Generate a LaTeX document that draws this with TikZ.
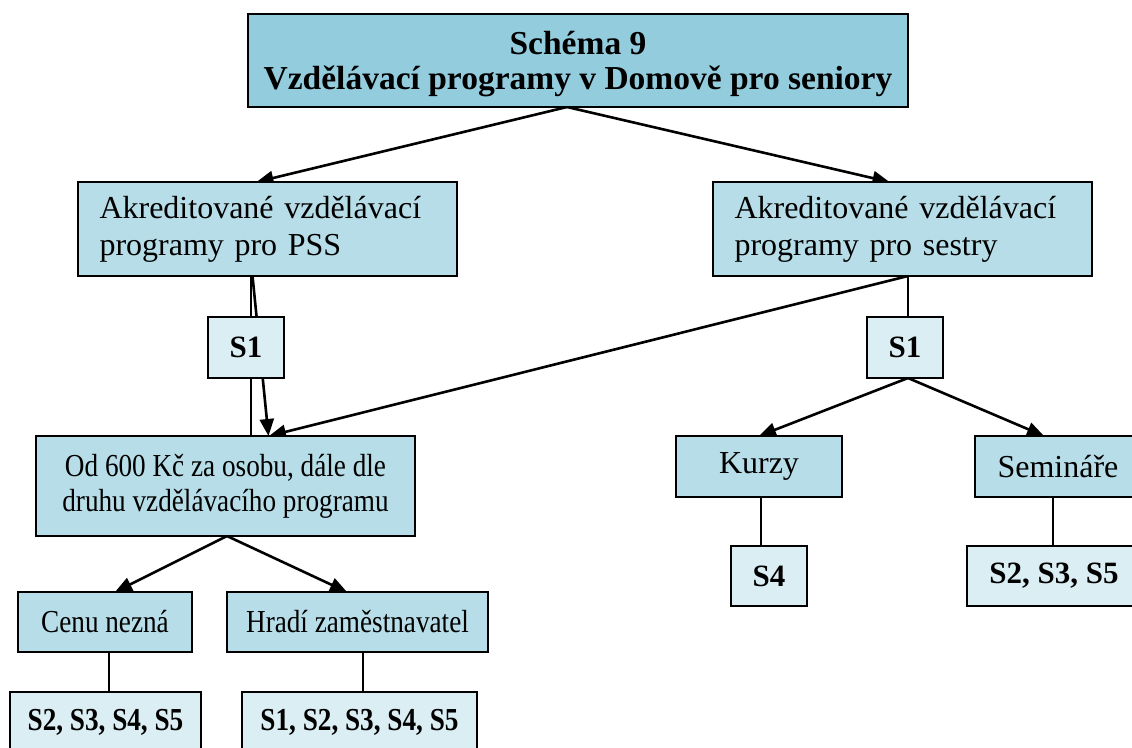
\documentclass[tikz,border=0pt]{standalone}
\usepackage{fontspec}
\setmainfont{Liberation Serif}
\newfontfamily\narrowserif[FakeStretch=0.85]{Liberation Serif}
\usetikzlibrary{arrows.meta,backgrounds}
\definecolor{headfill}{HTML}{93CDDD}
\definecolor{boxfill}{HTML}{B7DEE8}
\definecolor{tagfill}{HTML}{DBEEF4}
\tikzset{
  box/.style={draw=black, line width=1.8pt, fill=boxfill, inner sep=0pt, outer sep=0pt,
    font=\fontsize{32}{37}\selectfont, align=center},
  narrowbox/.style={box, font=\narrowserif\fontsize{32}{35}\selectfont},
  headbox/.style={box, fill=headfill, font=\bfseries\fontsize{33.5}{35}\selectfont},
  leftbox/.style={box, text width=336pt, inner xsep=21.5pt, align=left, minimum height=94pt},
  tagbox/.style={box, fill=tagfill, font=\bfseries\fontsize{31}{36}\selectfont},
  narrowtag/.style={box, fill=tagfill, font=\narrowserif\bfseries\fontsize{32}{35}\selectfont},
  arr/.style={line width=2.6pt, -{Triangle[length=17pt,width=14pt]}},
  link/.style={line width=1.4pt}
}
\begin{document}
\begin{tikzpicture}[x=1pt,y=-1pt]
\useasboundingbox (0,0) rectangle (1132,747);
\clip (0,0) rectangle (1132,747);

% title
\node[headbox, minimum width=660pt, minimum height=93pt] (top) at (578,60.5)
  {\rule{0pt}{31pt}Schéma 9\\Vzdělávací programy v Domově pro seniory};

% second level
\node[leftbox] (pss) at (267.5,229) {Akreditované vzdělávací\\programy pro PSS};
\node[leftbox] (ses) at (902.5,229) {Akreditované vzdělávací\\programy pro sestry};

% S1 tags
\node[tagbox, minimum width=76pt, minimum height=61pt] (s1a) at (246,347.5) {S1};
\node[tagbox, minimum width=76pt, minimum height=61pt] (s1b) at (905,347.5) {S1};

% price box
\node[narrowbox, minimum width=379pt, minimum height=100pt] (od) at (225.5,486)
  {Od 600 Kč za osobu, dále dle\\druhu vzdělávacího programu};

% course types
\node[box, minimum width=166pt, minimum height=61pt] (kurzy) at (759,466.5) {Kurzy};
\node[box, minimum width=166pt, minimum height=61pt] (sem) at (1058,466.5) {Semináře};
\node[tagbox, minimum width=76pt, minimum height=60pt] (s4) at (769,576) {S4};
\node[tagbox, minimum width=174pt, minimum height=60pt] (s235) at (1054,576) {S2, S3, S5};

% payer
\node[narrowbox, minimum width=174pt, minimum height=60pt] (cenu) at (105,622) {Cenu nezná};
\node[narrowbox, minimum width=261pt, minimum height=60pt] (hradi) at (357.5,622) {Hradí zaměstnavatel};
\node[narrowtag, minimum width=191pt, minimum height=60pt] (s2345) at (105.5,722) {S2, S3, S4, S5};
\node[narrowtag, minimum width=235pt, minimum height=60pt] (s12345) at (359.5,722) {S1, S2, S3, S4, S5};

% connectors
\begin{scope}[on background layer]
\draw[arr] ([xshift=-11pt]top.south) -- ([xshift=-11pt]pss.north);
\draw[arr] ([xshift=-11pt]top.south) -- ([xshift=-13pt]ses.north);

\draw[link] ([xshift=-16.5pt]pss.south) -- ([xshift=-16.5pt]pss.south |- od.north);
\draw[arr] ([xshift=-15pt]pss.south) -- ([xshift=43pt]od.north);
\draw[arr] ([xshift=5.5pt]ses.south) -- ([xshift=43.5pt]od.north);

\draw[link] ([xshift=5.5pt]ses.south) -- ([xshift=5.5pt]ses.south |- s1b.north);
\draw[arr] ([xshift=3pt]s1b.south) -- (kurzy.north);
\draw[arr] ([xshift=3pt]s1b.south) -- ([xshift=-14pt]sem.north);

\draw[arr] ([xshift=1.5pt]od.south) -- ([xshift=10pt]cenu.north);
\draw[arr] ([xshift=1.5pt]od.south) -- ([xshift=-10.5pt]hradi.north);

\draw[link] ([xshift=2pt]kurzy.south) -- ([xshift=2pt]kurzy.south |- s4.north);
\draw[link] ([xshift=-5pt]sem.south) -- ([xshift=-5pt]sem.south |- s235.north);
\draw[link] ([xshift=4pt]cenu.south) -- ([xshift=4pt]cenu.south |- s2345.north);
\draw[link] ([xshift=5.5pt]hradi.south) -- ([xshift=5.5pt]hradi.south |- s12345.north);
\end{scope}
\end{tikzpicture}
\end{document}
